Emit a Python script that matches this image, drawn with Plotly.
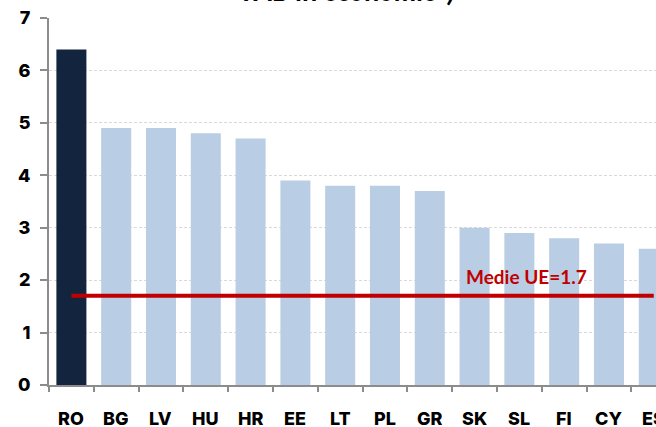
import plotly.graph_objects as go

categories = ["RO", "BG", "LV", "HU", "HR", "EE", "LT", "PL", "GR", "SK", "SL", "FI", "CY", "ES"]
values = [6.4, 4.9, 4.9, 4.8, 4.7, 3.9, 3.8, 3.8, 3.7, 3.0, 2.9, 2.8, 2.7, 2.6]
eu_avg = 1.7
avg_label = "Medie UE=1.7"
title_text = "Ponderea agriculturii în<br>VAB în economie*)"
y_ticks = [0, 1, 2, 3, 4, 5, 6, 7]

colors = ["#13243F" if c == "RO" else "#B9CDE5" for c in categories]

fig = go.Figure()
fig.add_trace(go.Bar(x=categories, y=values, marker=dict(color=colors, line=dict(width=0)),
                     showlegend=False, hoverinfo="skip"))
fig.add_trace(go.Scatter(x=[categories[0], categories[-1]], y=[eu_avg, eu_avg], mode="lines",
                         line=dict(color="#C00000", width=4), showlegend=False, hoverinfo="skip"))

label_font = dict(family="Inter", size=18, color="#000000", weight=800)
for c in categories:
    fig.add_annotation(x=c, xref="x", y=-0.09, yref="paper", text=c, showarrow=False,
                       font=label_font, xanchor="center", yanchor="middle", height=16, valign="middle")

fig.add_annotation(x=8.77, xref="x", y=eu_avg + 0.12, yref="y", text="<b>" + avg_label + "</b>",
                   showarrow=False, xanchor="left", yanchor="bottom",
                   font=dict(family="Lato", size=19, color="#C00000"))

fig.add_annotation(x=0.49, xref="paper", y=1.025, yref="paper", text="<b><i>" + title_text + "</i></b>",
                   showarrow=False, xanchor="center", yanchor="bottom",
                   font=dict(family="Lato", size=28, color="#000000"))

fig.update_layout(
    width=656, height=427,
    margin=dict(l=49, r=0, t=18, b=42),
    plot_bgcolor="white", paper_bgcolor="white",
    bargap=0.33,
    xaxis=dict(type="category", range=[-0.5, 13.05], showticklabels=False,
               tickson="boundaries", ticks="outside", ticklen=5, tickcolor="#8C8C8C", tickwidth=1.5,
               showline=True, linecolor="#8C8C8C", linewidth=2, showgrid=False, zeroline=False),
    yaxis=dict(range=[0, 7], tickvals=y_ticks, ticks="outside", ticklen=7, tickcolor="#8C8C8C",
               tickwidth=1.5, showline=True, linecolor="#8C8C8C", linewidth=2,
               showgrid=True, gridcolor="#D9D9D9", griddash="3px,2px", gridwidth=1, zeroline=False,
               tickfont=dict(family="Inter", size=18, color="#000000", weight=800),
               ticklabelstandoff=6),
)

fig.write_html("out.html", config={"displayModeBar": False},
               post_script="document.body.style.margin='0';document.body.style.padding='0';")
